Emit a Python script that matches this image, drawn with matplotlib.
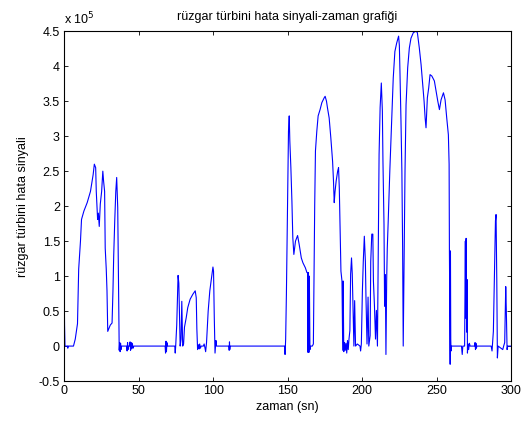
import matplotlib
matplotlib.use("Agg")
import matplotlib.pyplot as plt
from matplotlib.ticker import FuncFormatter, MultipleLocator

plt.rcParams["font.family"] = ["Liberation Sans", "DejaVu Sans"]

# time (s) and error signal (in units of 1e5)
t = [0, 0.3, 0.6, 2.3, 2.5, 2.7, 6.3, 7.5, 8.5, 9.0, 9.8, 11.0, 11.7, 13.3, 15.5,
     17.7, 19.5, 20.3, 21.2, 21.6, 22.5, 23.0, 23.6, 24.3, 25.2, 26.0, 26.5, 27.2,
     27.6, 28.3, 28.8, 29.3, 31.0, 32.2, 32.8, 33.3, 34.0, 34.7, 35.3, 36.0, 36.6,
     37.0, 37.3, 37.6, 37.9, 38.2, 38.6, 42.0, 42.3, 42.6, 42.9, 43.2, 44.0, 44.3,
     44.6, 45.0, 45.4, 45.8, 46.3, 46.8, 67.8, 68.1, 68.4, 68.7, 69.0, 69.4, 74.3,
     74.6, 74.9, 75.6, 76.5, 77.0, 77.9, 78.5, 79.0, 79.6, 80.2, 80.8, 82.0, 83.0,
     84.6, 86.4, 88.0, 88.7, 89.1, 89.6, 90.3, 90.7, 91.0, 91.5, 92.0, 93.5, 94.0,
     94.5, 95.0, 95.6, 96.7, 97.8, 99.0, 99.9, 100.3, 100.8, 101.3, 101.9, 102.3,
     110.6, 110.8, 111.0, 111.2, 111.4, 148.1, 148.3, 148.7, 149.2, 150.0, 150.6,
     151.1, 151.5, 152.2, 152.9, 153.5, 154.2, 155.3, 156.7, 157.8, 159.2, 160.3,
     161.9, 163.0, 163.4, 163.7, 164.0, 164.3, 164.6, 165.0, 165.5, 166.6, 167.3,
     168.2, 168.7, 169.6, 170.5, 171.8, 173.0, 174.6, 175.2, 176.1, 176.8, 177.9,
     179.0, 180.2, 180.8, 181.3, 181.8, 182.6, 183.6, 184.2, 184.7, 185.2, 185.8,
     186.5, 187.0, 187.3, 187.7, 188.2, 188.7, 189.2, 189.7, 190.2, 190.7, 191.2,
     191.8, 192.3, 192.9, 193.4, 194.0, 194.5, 195.0, 195.6, 196.8, 198.6, 199.0,
     199.5, 200.2, 200.8, 201.5, 202.2, 202.6, 203.3, 204.0, 204.5, 205.4, 205.8,
     206.5, 207.2, 207.6, 208.3, 209.0, 209.6, 210.3, 211.0, 211.4, 212.1, 212.9,
     213.6, 214.0, 214.7, 215.1, 215.6, 216.0, 216.5, 216.9, 217.5, 218.6, 219.8,
     220.9, 222.0, 223.2, 224.5, 225.0, 225.4, 226.1, 226.7, 227.2, 227.6, 228.1,
     228.8, 229.5, 230.6, 231.7, 232.8, 234.4, 236.2, 237.1, 238.4, 239.6, 240.7,
     241.6, 242.3, 242.9, 243.8, 244.7, 245.6, 246.8, 248.5, 249.7, 250.8, 251.9,
     253.0, 254.6, 255.7, 256.8, 257.9, 258.4, 258.6, 258.8, 259.1, 259.3, 259.5,
     259.7, 260.0, 266.7, 267.2, 267.6, 268.8, 269.3, 269.5, 269.8, 270.2, 270.5,
     270.7, 271.0, 271.5, 272.0, 272.5, 275.5, 275.8, 276.1, 276.4, 276.7, 277.0,
     286.6, 287.2, 288.1, 289.0, 289.5, 289.9, 290.4, 290.8, 291.3, 294.4, 295.0,
     295.7, 296.4, 296.8, 297.3, 297.7, 300]
v = [1.0, 0.3, 0.0, 0.0, -0.03, 0.0, 0.0, 0.1, 0.25, 0.32, 1.1, 1.5, 1.81, 1.93, 2.05,
     2.21, 2.45, 2.6, 2.55, 2.21, 1.81, 1.9, 1.71, 2.03, 2.21, 2.5, 2.36, 2.21,
     1.4, 1.1, 0.79, 0.21, 0.3, 0.33, 0.79, 1.29, 1.79, 2.21, 2.41, 1.98, 0.83,
     -0.06, 0.05, -0.08, 0.04, -0.05, 0.0, 0.0, -0.07, 0.05, -0.05, 0.0, 0.0, 0.06,
     -0.06, 0.05, -0.04, 0.04, -0.03, 0.0, 0.0, -0.1, 0.07, -0.08, 0.05, 0.0, 0.0,
     -0.1, 0.0, 0.3, 1.01, 0.9, 0.0, 0.1, 0.64, 0.0, 0.03, 0.27, 0.41, 0.55,
     0.67, 0.74, 0.79, 0.69, 0.25, -0.05, 0.02, -0.04, 0.03, -0.03, 0.0, 0.0, 0.03,
     -0.02, -0.08, 0.05, 0.5, 0.79, 0.98, 1.13, 1.07, 0.41, -0.1, 0.08, 0.0,
     0.0, -0.06, 0.06, -0.05, 0.0, 0.0, -0.12, 0.1, 0.74, 2.12, 3.07,
     3.29, 2.93, 2.55, 2.07, 1.55, 1.31, 1.5, 1.58, 1.45, 1.26, 1.19,
     1.12, 1.05, 1.05, -0.09, 1.05, -0.09, 1.0, -0.05, 0.0, 0.0, 0.03,
     2.02, 2.79, 3.07, 3.29, 3.38, 3.48, 3.55, 3.57, 3.5, 3.4, 3.26,
     2.98, 2.64, 2.36, 2.05, 2.2, 2.36, 2.5, 2.55, 2.26, 1.69, 1.07,
     0.93, -0.06, 0.93, -0.08, 0.05, -0.06, 0.04, -0.1, 0.08, -0.05, 0.1,
     0.22, 1.03, 1.26, 1.03, 0.46, 0.0, 0.65, 0.0, 0.03, 0.0, -0.07,
     0.03, 0.79, 1.21, 1.57, 1.21, 0.7, 0.03, 0.7, 0.0, 0.15, 1.21,
     1.6, 1.6, 0.93, 0.57, 0.1, 0.51, 0.0, 1.74, 2.74, 3.41, 3.76,
     3.36, 2.64, 1.74, 0.57, 1.02, -0.12, 0.95, 1.4, 1.77, 2.5, 3.21,
     3.83, 4.21, 4.33, 4.43, 4.3, 3.93, 3.21, 2.5, 1.4, 0.0, 1.07,
     2.5, 3.45, 3.98, 4.26, 4.40, 4.48, 4.5, 4.48, 4.26, 4.02, 3.74,
     3.5, 3.26, 3.12, 3.55, 3.69, 3.88, 3.86, 3.79, 3.64, 3.5, 3.38,
     3.52, 3.62, 3.52, 3.26, 3.02, 2.6, 1.36, 0.74, -0.26, 1.36, 0.1,
     -0.07, 0.0, 0.0, -0.12, 0.0, 0.0, 1.5, 0.4, 1.54, 0.2, 0.95,
     -0.1, 0.03, -0.05, 0.04, 0.0, 0.0, 0.05, -0.05, 0.04, -0.03, 0.0,
     0.0, -0.07, 0.21, 1.21, 1.79, 1.88, 0.93, -0.17, 0.0, -0.05, 0.0,
     0.05, 0.85, 0.5, -0.05, 0.0, 0.0]

fig = plt.figure(figsize=(5.21, 4.22), dpi=100, facecolor='white')
ax = fig.add_axes([0.123, 0.097, 0.858, 0.829])

ax.plot(t, v, color='#0000ff', linewidth=0.8)

ax.set_xlim(0, 300)
ax.set_ylim(-0.5, 4.5)
ax.xaxis.set_major_locator(MultipleLocator(50))
ax.yaxis.set_major_locator(MultipleLocator(0.5))
ax.yaxis.set_major_formatter(FuncFormatter(lambda y, pos: '%g' % y))

ax.tick_params(direction='in', top=True, right=True, length=3, width=0.6,
               labelsize=9, pad=3)
for s in ax.spines.values():
    s.set_linewidth(0.8)

ax.text(0, 1.012, 'x 10$^{5}$', transform=ax.transAxes, fontsize=9,
        ha='left', va='bottom')
ax.set_title('rüzgar türbini hata sinyali-zaman grafiği', fontsize=9, pad=8)
ax.set_xlabel('zaman (sn)', fontsize=9, labelpad=3)
ax.set_ylabel('rüzgar türbini hata sinyali', fontsize=9, labelpad=7)

plt.savefig('out.png', dpi=100)
